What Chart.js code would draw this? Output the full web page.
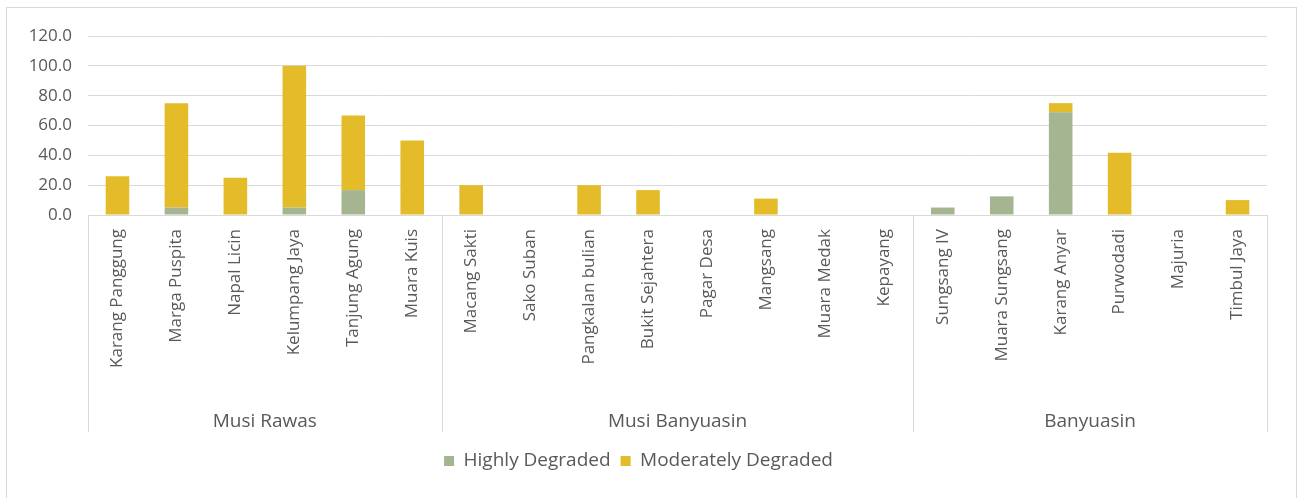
<!DOCTYPE html>
<html lang="en">
  <head>
    <meta charset="UTF-8" />
    <title>Degraded Area by Village</title>
    <script src="https://cdn.jsdelivr.net/npm/chart.js"></script>
    <style>
      body {
        margin: 0;
        padding: 0;
        background: #fff;
      }
      .wrap {
        width: 1301px;
        height: 498px;
      }
    </style>
  </head>
  <body>
    <div class="wrap">
      <canvas id="degradedChart" width="1301" height="498"></canvas>
    </div>

    <script>
      const villages = [
        "Karang Panggung", "Marga Puspita", "Napal Licin", "Kelumpang Jaya",
        "Tanjung Agung", "Muara Kuis",
        "Macang Sakti", "Sako Suban", "Pangkalan bulian", "Bukit Sejahtera",
        "Pagar Desa", "Mangsang", "Muara Medak", "Kepayang",
        "Sungsang IV", "Muara Sungsang", "Karang Anyar", "Purwodadi",
        "Majuria", "Timbul Jaya",
      ];
      const regencies = ["Musi Rawas", "Musi Banyuasin", "Banyuasin"];
      const regencySizes = [6, 8, 6];

      const highlyDegraded = [
        0, 5, 0, 5, 16.7, 0,
        0, 0, 0, 0, 0, 0, 0, 0,
        5, 12.5, 68.8, 0, 0, 0,
      ];
      const moderatelyDegraded = [
        26, 70, 25, 95, 50, 50,
        20, 0, 20, 16.7, 0, 11, 0, 0,
        0, 0, 6.2, 41.7, 0, 10,
      ];

      const FONT = "'Open Sans', sans-serif";
      const TEXT = "#595959";
      const LINE = "#d9d9d9";

      // frame around the whole chart
      const framePlugin = {
        id: "frame",
        beforeDraw(chart) {
          const ctx = chart.ctx;
          ctx.save();
          ctx.strokeStyle = LINE;
          ctx.lineWidth = 1;
          ctx.strokeRect(6.5, 7.5, 1290, 500);
          ctx.restore();
        },
      };

      // second level of the category axis: regency separators and names
      const groupAxisPlugin = {
        id: "groupAxis",
        afterDraw(chart) {
          const x = chart.scales.x;
          const top = chart.chartArea.bottom;
          const ctx = chart.ctx;
          ctx.save();
          ctx.strokeStyle = LINE;
          ctx.lineWidth = 1;
          ctx.fillStyle = TEXT;
          ctx.font = "19px " + FONT;
          ctx.textAlign = "center";
          ctx.textBaseline = "middle";

          let start = 0;
          const edges = [x.getPixelForValue(-0.5)];
          regencies.forEach((name, i) => {
            const end = start + regencySizes[i];
            const left = x.getPixelForValue(start - 0.5);
            const right = x.getPixelForValue(end - 0.5);
            edges.push(right);
            ctx.fillText(name, (left + right) / 2, top + 207);
            start = end;
          });
          edges.forEach((px) => {
            const p = Math.round(px) + 0.5;
            ctx.beginPath();
            ctx.moveTo(p, top);
            ctx.lineTo(p, top + 217);
            ctx.stroke();
          });
          ctx.restore();
        },
      };

      const ctx = document.getElementById("degradedChart").getContext("2d");
      new Chart(ctx, {
        type: "bar",
        data: {
          labels: villages,
          datasets: [
            {
              label: "Highly Degraded",
              data: highlyDegraded,
              backgroundColor: "#a5b592",
            },
            {
              label: "Moderately Degraded",
              data: moderatelyDegraded,
              backgroundColor: "#e4bc2a",
            },
          ],
        },
        options: {
          responsive: false,
          animation: false,
          categoryPercentage: 1,
          barPercentage: 0.4,
          layout: {
            padding: { top: 36, left: 10, right: 34, bottom: 17.5 },
          },
          plugins: {
            tooltip: { enabled: false },
            legend: {
              position: "bottom",
              labels: {
                boxWidth: 10,
                boxHeight: 10,
                padding: 10,
                color: TEXT,
                font: { family: FONT, size: 19 },
              },
            },
          },
          scales: {
            x: {
              stacked: true,
              afterFit(scale) {
                scale.height = 226.5;
              },
              grid: { display: false },
              border: { display: true, color: LINE, width: 1 },
              ticks: {
                autoSkip: false,
                minRotation: 90,
                maxRotation: 90,
                padding: 6,
                color: TEXT,
                font: { family: FONT, size: 17 },
              },
            },
            y: {
              stacked: true,
              min: 0,
              max: 120,
              afterFit(scale) {
                scale.width = 78;
              },
              grid: { color: LINE, lineWidth: 1, drawTicks: false },
              border: { display: false },
              ticks: {
                stepSize: 20,
                padding: 16,
                color: TEXT,
                font: { family: FONT, size: 17 },
                callback: (v) => Number(v).toFixed(1),
              },
            },
          },
        },
        plugins: [framePlugin, groupAxisPlugin],
      });
    </script>
  </body>
</html>
